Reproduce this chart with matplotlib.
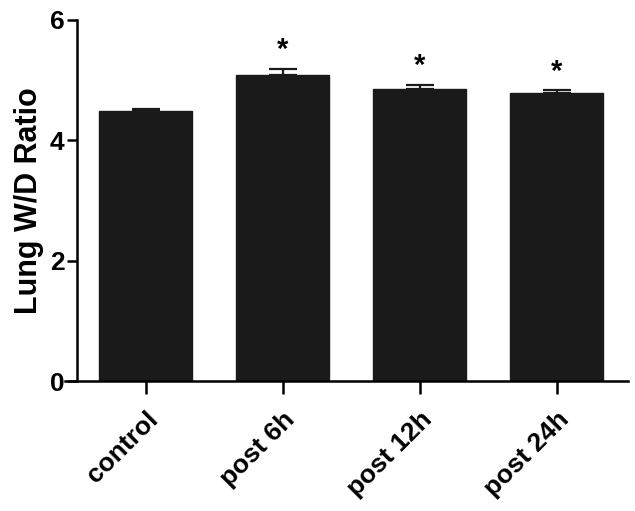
import matplotlib

matplotlib.use("Agg")
import matplotlib.pyplot as plt  # noqa: E402
from matplotlib.transforms import ScaledTranslation  # noqa: E402

groups = ["control", "post 6h", "post 12h", "post 24h"]
ratio = [4.48, 5.08, 4.85, 4.78]
sem = [0.04, 0.11, 0.07, 0.05]
signif = ["", "*", "*", "*"]
yticks = [0, 2, 4, 6]

plt.rcParams["font.family"] = ["Liberation Sans", "DejaVu Sans"]
plt.rcParams["font.weight"] = "bold"

fig = plt.figure(figsize=(6.35, 5.11), dpi=100)
ax = fig.add_axes([0.102, 0.254, 0.887, 0.707])

x = range(len(groups))
ax.bar(x, ratio, width=0.68, color="#1a1a1a", edgecolor="#1a1a1a", zorder=2)
ax.errorbar(x, ratio, yerr=[[0] * len(sem), sem], fmt="none", ecolor="#1a1a1a",
            elinewidth=1.6, capsize=10, capthick=1.6, zorder=3)
for i, (v, e, s) in enumerate(zip(ratio, sem, signif)):
    if s:
        ax.text(i, v + e + 0.08, s, ha="center", va="bottom", fontsize=21)

ax.set_xlim(-0.59, 3.52)
ax.set_ylim(0, 6)
ax.set_yticks(yticks)
ax.set_xticks(list(x))
ax.set_xticklabels(groups, rotation=45, ha="right", va="top",
                   rotation_mode="anchor", fontsize=19)
# nudge rotated labels a little left, like the original
shift = ScaledTranslation(-0.06, 0, fig.dpi_scale_trans)
for lab in ax.get_xticklabels():
    lab.set_transform(lab.get_transform() + shift)
ax.set_ylabel("Lung W/D Ratio", fontsize=22, fontweight="bold", labelpad=4)

ax.spines["top"].set_visible(False)
ax.spines["right"].set_visible(False)
ax.spines["left"].set_position(("data", -0.5))
ax.spines["left"].set_linewidth(1.8)
ax.spines["bottom"].set_linewidth(1.8)
ax.tick_params(axis="y", direction="out", length=7, width=1.8, pad=2,
               labelsize=19)
ax.tick_params(axis="x", direction="out", length=9, width=1.8, pad=10)

fig.savefig("out.png", dpi=100)
